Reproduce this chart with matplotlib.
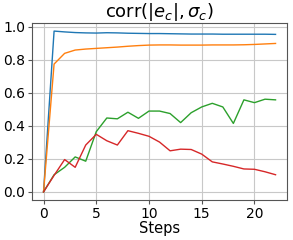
import matplotlib
matplotlib.use('Agg')
import matplotlib.pyplot as plt

steps = list(range(23))

# 四条曲线
blue = [0.0, 0.975, 0.970, 0.966, 0.964, 0.963, 0.965, 0.964, 0.962, 0.961, 0.960, 0.960,
        0.959, 0.958, 0.957, 0.957, 0.957, 0.956, 0.956, 0.956, 0.956, 0.956, 0.955]
orange = [0.0, 0.775, 0.840, 0.860, 0.866, 0.870, 0.874, 0.878, 0.883, 0.887, 0.890, 0.891,
          0.891, 0.890, 0.890, 0.890, 0.891, 0.891, 0.891, 0.892, 0.894, 0.897, 0.900]
green = [0.0, 0.104, 0.149, 0.212, 0.186, 0.365, 0.448, 0.443, 0.483, 0.446, 0.490, 0.490,
         0.475, 0.420, 0.480, 0.515, 0.537, 0.515, 0.415, 0.558, 0.541, 0.562, 0.558]
red = [0.0, 0.100, 0.196, 0.149, 0.284, 0.349, 0.310, 0.284, 0.371, 0.355, 0.337, 0.302,
       0.249, 0.259, 0.257, 0.229, 0.182, 0.169, 0.155, 0.139, 0.137, 0.122, 0.104]

fig = plt.figure(figsize=(2.93, 2.40), dpi=100)
ax = fig.add_axes([0.109, 0.167, 0.871, 0.737])
ax.plot(steps, blue, color='#1f77b4', lw=1)
ax.plot(steps, orange, color='#ff7f0e', lw=1)
ax.plot(steps, green, color='#2ca02c', lw=1)
ax.plot(steps, red, color='#d62728', lw=1)
ax.grid(True, color='#c8c8c8', lw=0.8)
for s in ax.spines.values():
    s.set_color('#555555')
ax.set_xticks([0, 5, 10, 15, 20])
ax.set_yticks([0.0, 0.2, 0.4, 0.6, 0.8, 1.0])
ax.tick_params(labelsize=10, length=3, color='#555555', pad=2)
ax.set_xlabel('Steps', fontsize=10.5, labelpad=0)
ax.set_title(r'corr($|e_c|, \sigma_c$)', fontsize=13, pad=3)
fig.savefig('out.png', dpi=100)
